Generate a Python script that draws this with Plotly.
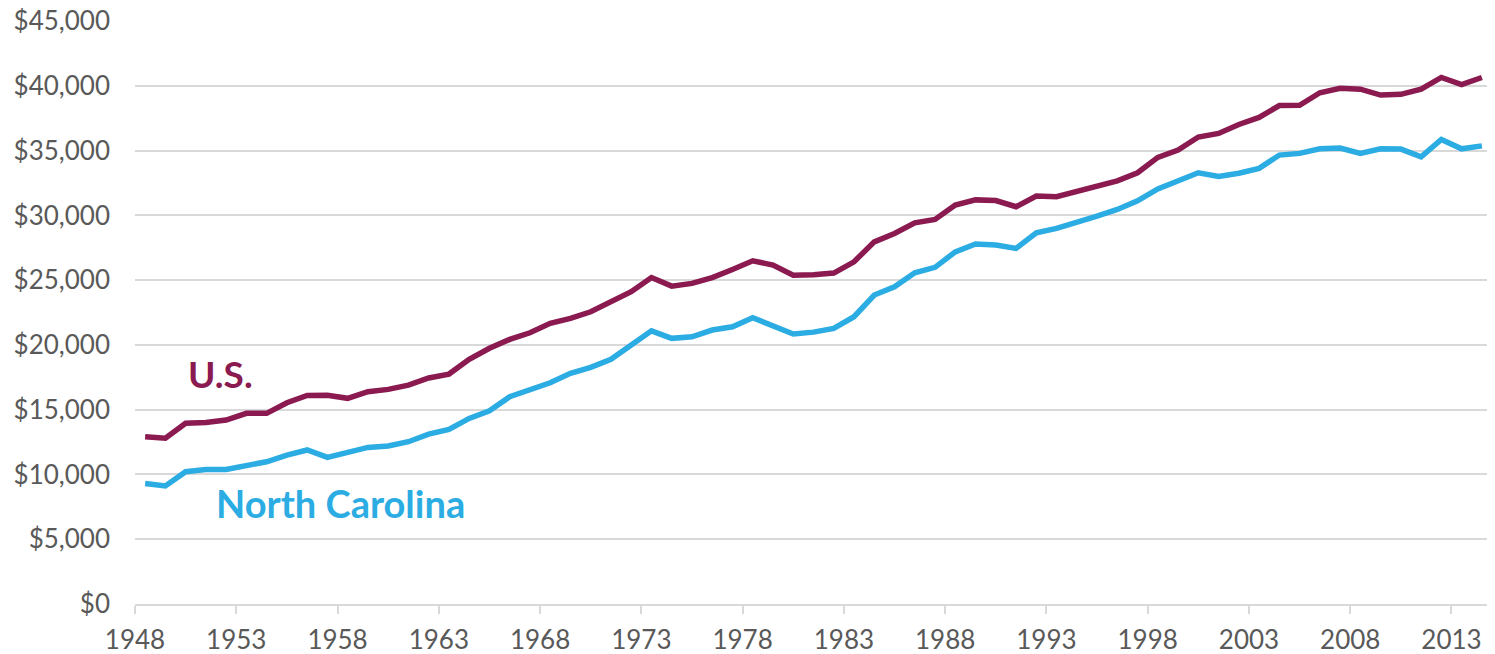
import plotly.graph_objects as go

# Per-capita income, 1948-2014 (in dollars)
years = list(range(1948, 2015))

us_income = [
    12910, 12800, 13950, 14020, 14200, 14720, 14720, 15540, 16100, 16120,
    15880, 16390, 16570, 16900, 17450, 17750, 18890, 19740, 20430, 20940,
    21670, 22050, 22560, 23330, 24110, 25200, 24540, 24750, 25200, 25830,
    26500, 26170, 25390, 25420, 25550, 26420, 27960, 28610, 29430, 29690,
    30800, 31200, 31150, 30670, 31490, 31440, 31820, 32260, 32670, 33290,
    34480, 35040, 36050, 36330, 37020, 37570, 38480, 38500, 39470, 39820,
    39750, 39290, 39350, 39750, 40650, 40100, 40650,
]

nc_income = [
    9310, 9110, 10210, 10390, 10390, 10730, 10980, 11500, 11890, 11320,
    11680, 12090, 12200, 12530, 13120, 13480, 14330, 14920, 16000, 16570,
    17080, 17810, 18270, 18890, 19990, 21090, 20510, 20630, 21150, 21400,
    22100, 21480, 20840, 20990, 21280, 22180, 23850, 24490, 25570, 25990,
    27190, 27790, 27710, 27450, 28660, 29000, 29430, 29950, 30460, 31130,
    32050, 32700, 33290, 33000, 33260, 33630, 34660, 34790, 35140, 35200,
    34790, 35140, 35120, 34530, 35870, 35140, 35370,
]

tick_years = list(range(1948, 2014, 5))

US_COLOR = '#8A1A4F'
NC_COLOR = '#2BACE2'
TEXT_COLOR = '#595959'
GRID_COLOR = '#D9D9D9'

fig = go.Figure()
fig.add_trace(go.Scatter(x=years, y=us_income, mode='lines', name='U.S.',
                         line=dict(color=US_COLOR, width=5.5)))
fig.add_trace(go.Scatter(x=years, y=nc_income, mode='lines', name='North Carolina',
                         line=dict(color=NC_COLOR, width=5.5)))

# Series labels written directly on the chart
fig.add_annotation(x=1950.0, y=17830, text='<b>U.S.</b>', showarrow=False,
                   xanchor='left', yanchor='middle',
                   font=dict(family='Lato', size=37, color=US_COLOR))
fig.add_annotation(x=1951.4, y=7800, text='<b>North Carolina</b>', showarrow=False,
                   xanchor='left', yanchor='middle',
                   font=dict(family='Lato', size=38, color=NC_COLOR))

fig.update_xaxes(
    range=[1947.5, 2014.5],
    tickvals=[y - 0.5 for y in tick_years],  # ticks sit on category boundaries
    ticktext=[str(y) for y in tick_years],
    ticks='outside',
    ticklen=8,
    tickcolor=GRID_COLOR,
    tickwidth=2,
    showline=True,
    linecolor=GRID_COLOR,
    linewidth=2,
    showgrid=False,
    zeroline=False,
    automargin=False,
    ticklabelstandoff=4,
    tickfont=dict(family='Lato', size=26, color=TEXT_COLOR),
)
fig.update_yaxes(
    range=[0, 45010],
    dtick=5000,
    tickprefix='$',
    tickformat=',d',
    showgrid=True,
    gridcolor=GRID_COLOR,
    gridwidth=2,
    zeroline=False,
    showline=False,
    automargin=False,
    ticklabeloverflow='allow',
    ticklabelstandoff=24,
    tickfont=dict(family='Lato', size=26, color=TEXT_COLOR),
)

# page body adds an 8px margin, so the figure is sized to fit inside the window
fig.update_layout(
    width=1487,
    height=646,
    showlegend=False,
    plot_bgcolor='white',
    paper_bgcolor='white',
    margin=dict(l=127, r=3, t=13, b=50),
)

fig.write_html('out.html')
